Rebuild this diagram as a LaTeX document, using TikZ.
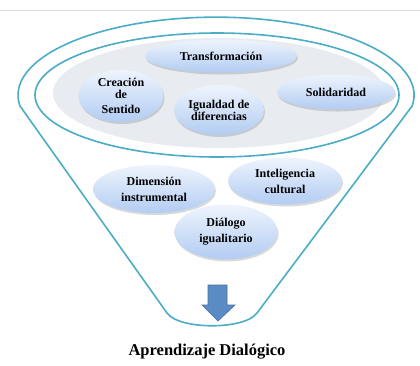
\documentclass[tikz,border=0pt]{standalone}
\usepackage{fontspec}
\setmainfont{Liberation Serif}
\usepackage{tikz}
\usetikzlibrary{shapes.geometric, shadows, positioning}
\usepackage{xcolor}
\definecolor{funnelblue}{HTML}{4BACC6}
\definecolor{bubbletop}{HTML}{EEF4FD}
\definecolor{bubblebottom}{HTML}{B2CCF2}
\definecolor{backgrey}{HTML}{E8EBEF}
\definecolor{arrowblue}{HTML}{5B8BC5}
\tikzstyle{bubble} = [ellipse, inner sep=0pt, align=center, top color=bubbletop, bottom color=bubblebottom,
    drop shadow={opacity=0.3, shadow xshift=1pt, shadow yshift=-2pt},
    font=\bfseries\fontsize{12}{12}\selectfont]
\tikzstyle{rim} = [funnelblue, line width=1.6pt]

\begin{document}
\begin{tikzpicture}[x=1pt, y=1pt]
    \useasboundingbox (0,0) rectangle (420,-365);
    \draw[black!13, line width=0.8pt] (0,-10) -- (420,-10);
    \draw[rim, line join=round] (20,-106) arc[start angle=188, end angle=-8, x radius=198, y radius=78]
        -- (257,-313) .. controls (245,-330) and (179,-330) .. (167,-313) -- cycle;
    \draw[rim] (217,-95) ellipse[x radius=182, y radius=62];
    \fill[backgrey] (219,-93) ellipse[x radius=166, y radius=55];
    \node[bubble, minimum width=152pt, minimum height=33pt] (trans) at (221,-56) {Transformación};
    \node[bubble, minimum width=85pt, minimum height=52pt] (sentido) at (121,-96) {Creación\\de\\[3pt]Sentido};
    \node[bubble, minimum width=90pt, minimum height=50pt] (igualdad) at (219,-110) {Igualdad de\\diferencias};
    \node[bubble, minimum width=118pt, minimum height=35pt] (soli) at (336,-92) {Solidaridad};
    \node[bubble, minimum width=122pt, minimum height=48pt] (dim) at (154,-189) {Dimensión\\[4pt]instrumental};
    \node[bubble, minimum width=114pt, minimum height=47pt] (intel) at (285,-181) {Inteligencia\\[4pt]cultural};
    \node[bubble, minimum width=103pt, minimum height=55pt] (dialogo) at (226,-232) {Diálogo\\[4pt]igualitario};
    \draw[fill=arrowblue, draw=arrowblue!80!black, line width=0.6pt] (208,-285) -- (227,-285) -- (227,-305)
        -- (235,-305) -- (218,-321) -- (202,-305) -- (208,-305) -- cycle;
    \node[font=\bfseries\fontsize{16.5}{18}\selectfont] (aprendizaje) at (207,-352) {Aprendizaje Dialógico};
\end{tikzpicture}
\end{document}
